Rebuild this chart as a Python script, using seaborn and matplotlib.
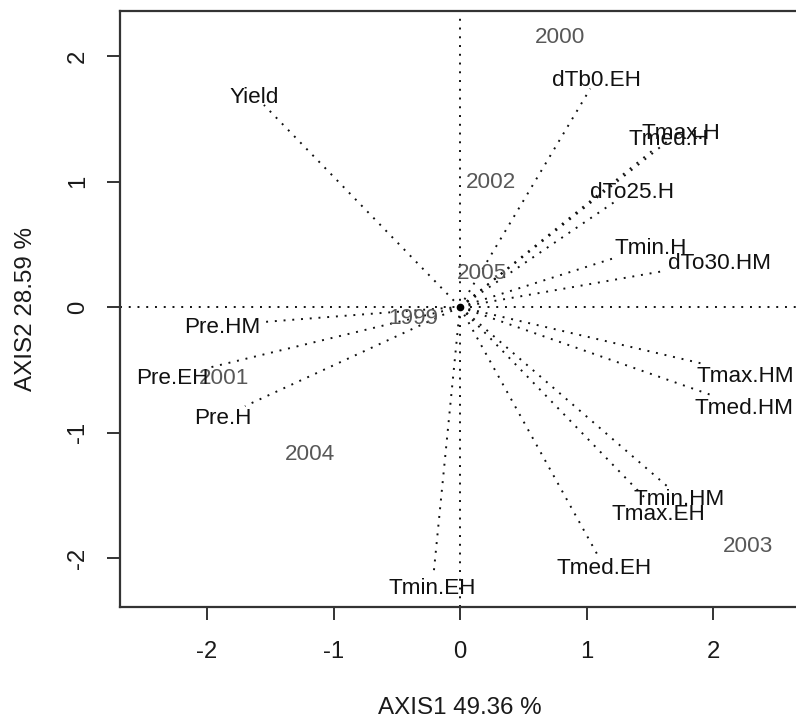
import numpy as np
import pandas as pd
import matplotlib
matplotlib.use("Agg")
import matplotlib.pyplot as plt
import matplotlib.transforms as mtransforms
from matplotlib import font_manager as fm
import seaborn as sns

# ---------------- data ----------------
var_names = ["Yield", "dTb0.EH", "Tmax.H", "Tmed.H", "dTo25.H", "Tmin.H", "dTo30.HM",
             "Tmax.HM", "Tmed.HM", "Tmin.HM", "Tmax.EH", "Tmed.EH", "Tmin.EH",
             "Pre.HM", "Pre.EH", "Pre.H"]
var_x = [-1.55, 1.03, 1.64, 1.55, 1.24, 1.25, 1.63,
         1.91, 2.01, 1.64, 1.49, 1.09, -0.21,
         -1.56, -1.97, -1.70]
var_y = [1.61, 1.74, 1.32, 1.27, 0.85, 0.40, 0.29,
         -0.45, -0.71, -1.43, -1.55, -1.98, -2.14,
         -0.12, -0.48, -0.79]

year_names = ["2000", "2002", "2005", "1999", "2001", "2004", "2003"]
year_x = [0.79, 0.245, 0.175, -0.37, -1.865, -1.185, 2.275]
year_y = [2.165, 1.01, 0.29, -0.07, -0.55, -1.155, -1.89]

x_ticks = [-2, -1, 0, 1, 2]
y_ticks = [-2, -1, 0, 1, 2]
x_title = "AXIS1 49.36 %"
y_title = "AXIS2 28.59 %"

# ---------------- style ----------------
sns.set_theme(style="white")
names = {f.name for f in fm.fontManager.ttflist}
if "Liberation Sans Narrow" in names:
    FAM = ["Liberation Sans Narrow", "Liberation Sans", "DejaVu Sans"]
    lab_fs, tick_fs, title_fs = 19.5, 20.5, 21
else:
    FAM = ["Liberation Sans", "DejaVu Sans"]
    lab_fs, tick_fs, title_fs = 16.2, 17.2, 17.4
plt.rcParams["font.family"] = FAM

W, H, DPI = 796, 722, 100
fig = plt.figure(figsize=(W / DPI, H / DPI), dpi=DPI)
fig.patch.set_facecolor("white")
L, R, T, B = 120, 805, 11, 607
ax = fig.add_axes([L / W, 1 - B / H, (R - L) / W, (B - T) / H])
ax.set_facecolor("white")

px_x, px_y = 126.5, 125.5
x0, y0 = 460, 307
ax.set_xlim(-(x0 - L) / px_x, (R - x0) / px_x)
ax.set_ylim(-(B - y0) / px_y, (y0 - T) / px_y)

dot = (0, (1, 3.5))
ax.axhline(0, color="#111111", lw=1.4, linestyle=dot, zorder=1)
ax.axvline(0, color="#111111", lw=1.4, linestyle=dot, zorder=1)

# arrows (dotted segments from origin) via seaborn
seg = pd.DataFrame({
    "var": np.repeat(var_names, 2),
    "x": np.ravel([[0.0, vx] for vx in var_x]),
    "y": np.ravel([[0.0, vy] for vy in var_y]),
})
sns.lineplot(data=seg, x="x", y="y", units="var", estimator=None, sort=False,
             color="#111111", lw=1.4, linestyle=dot, ax=ax, legend=False, zorder=2)
ax.plot([0], [0], marker="o", ms=4.5, color="black", zorder=4)

# frame
for s in ax.spines.values():
    s.set_visible(True)
    s.set_color("#333333")
    s.set_linewidth(1.6)

ax.set_xticks(x_ticks)
ax.set_yticks(y_ticks)
ax.set_xticklabels([str(v) for v in x_ticks])
ax.set_yticklabels([str(v) for v in y_ticks])
ax.tick_params(axis="both", direction="out", length=9.4, width=1.4, color="#333333",
               labelsize=tick_fs, labelcolor="#1a1a1a", left=True, bottom=True)
ax.tick_params(axis="x", pad=15)
ax.tick_params(axis="y", labelrotation=90, pad=13)
for t in ax.get_yticklabels():
    t.set_va("center")

ax.set_xlabel(x_title, fontsize=title_fs, color="#1a1a1a")
ax.set_ylabel(y_title, fontsize=title_fs, color="#1a1a1a")
ax.xaxis.label.set_va("center")
ax.yaxis.label.set_va("center")
ax.xaxis.set_label_coords((460 - L) / (R - L), -(708 - B) / (B - T))
ax.yaxis.set_label_coords(-(L - 26) / (R - L), 0.5)

# year labels (grey, centred on the points)
for n, x, y in zip(year_names, year_x, year_y):
    ax.text(x, y, n, ha="center", va="center_baseline", fontsize=lab_fs,
            color="#585858", zorder=3)

# variable labels placed just outside the arrow tips
fig.canvas.draw()
renderer = fig.canvas.get_renderer()
fs_px = lab_fs * DPI / 72.0
for n, x, y in zip(var_names, var_x, var_y):
    t = ax.text(x, y, n, ha="center", va="center_baseline", fontsize=lab_fs,
                color="#111111", zorder=3)
    bb = t.get_window_extent(renderer)
    w = bb.width
    h = 0.74 * fs_px
    p0 = ax.transData.transform((0, 0))
    p1 = ax.transData.transform((x, y))
    d = p1 - p0
    u = d / np.hypot(*d)
    pad = 2.0
    tt = min((w / 2 + pad) / max(abs(u[0]), 1e-9), (h / 2 + pad) / max(abs(u[1]), 1e-9))
    off = u * tt
    t.set_transform(mtransforms.offset_copy(ax.transData, fig=fig,
                                            x=off[0], y=off[1], units="dots"))

fig.savefig("out.png", dpi=DPI, facecolor="white")
